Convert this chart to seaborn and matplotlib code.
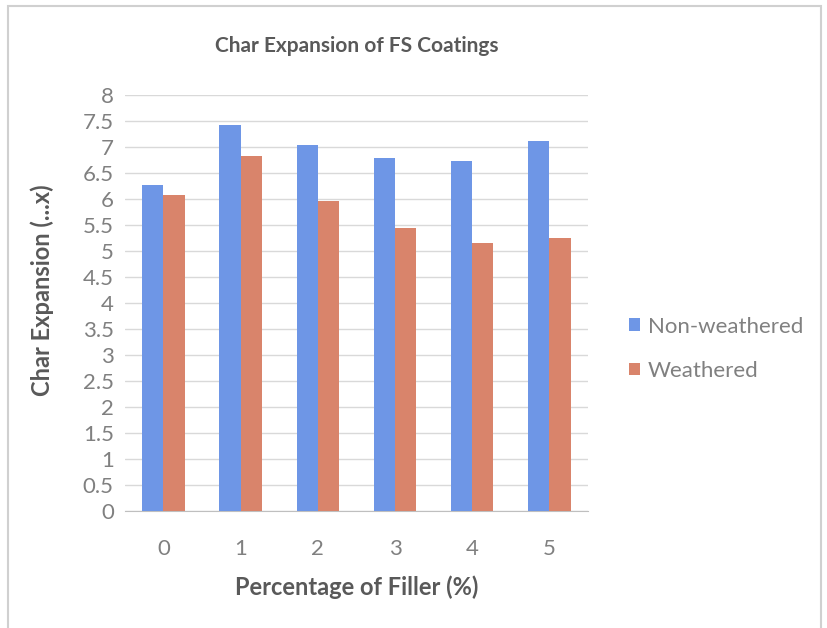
import pandas as pd
import seaborn as sns
import matplotlib.pyplot as plt
from matplotlib.patches import Rectangle

# data
filler = ['0', '1', '2', '3', '4', '5']
non_weathered = [6.27, 7.42, 7.03, 6.79, 6.72, 7.12]
weathered = [6.08, 6.83, 5.96, 5.44, 5.16, 5.25]
series = ['Non-weathered', 'Weathered']
colors = ['#6E96E6', '#D9846B']

df = pd.DataFrame({
    'filler': filler * 2,
    'value': non_weathered + weathered,
    'series': [series[0]] * 6 + [series[1]] * 6,
})

sns.set_style('white')
plt.rcParams['font.family'] = ['Lato', 'DejaVu Sans']

fig = plt.figure(figsize=(8.27, 6.28), dpi=100)
ax = fig.add_axes([0.151, 0.186, 0.56, 0.663])

sns.barplot(data=df, x='filler', y='value', hue='series', order=filler,
            hue_order=series, palette=colors, width=0.55, saturation=1,
            linewidth=0, ax=ax, zorder=3)

ax.set_ylim(0, 8)
ax.set_yticks([i * 0.5 for i in range(17)])
ax.set_yticklabels([f'{i * 0.5:g}' for i in range(17)])
ax.yaxis.grid(True, color='#D9D9D9', linewidth=1, zorder=0)
ax.set_axisbelow(True)
for s in ['top', 'right', 'left']:
    ax.spines[s].set_visible(False)
ax.spines['bottom'].set_color('#BFBFBF')
ax.tick_params(axis='both', length=0, labelsize=16, labelcolor='#808080')
ax.tick_params(axis='x', pad=20)
ax.tick_params(axis='y', pad=8)

ax.set_title('Char Expansion of FS Coatings', fontsize=15, fontweight='bold',
             color='#595959', pad=31)
ax.set_xlabel('Percentage of Filler (%)', fontsize=17, fontweight='bold',
              color='#595959', labelpad=12)
ax.set_ylabel('Char Expansion (...x)', fontsize=17, fontweight='bold',
              color='#595959')
ax.yaxis.set_label_coords(-0.152, 0.531)

ax.legend(loc='center left', bbox_to_anchor=(1.045, 0.39), frameon=False,
          fontsize=16, labelcolor='#808080', handlelength=0.5,
          handleheight=0.5, handletextpad=0.35, labelspacing=1.1)

# light chart-area border
fig.patches.append(Rectangle((0.01, -0.05), 0.983, 1.04, transform=fig.transFigure,
                             fill=False, edgecolor='#D0D0D0', linewidth=1.5))

plt.savefig('out.png', dpi=100)
